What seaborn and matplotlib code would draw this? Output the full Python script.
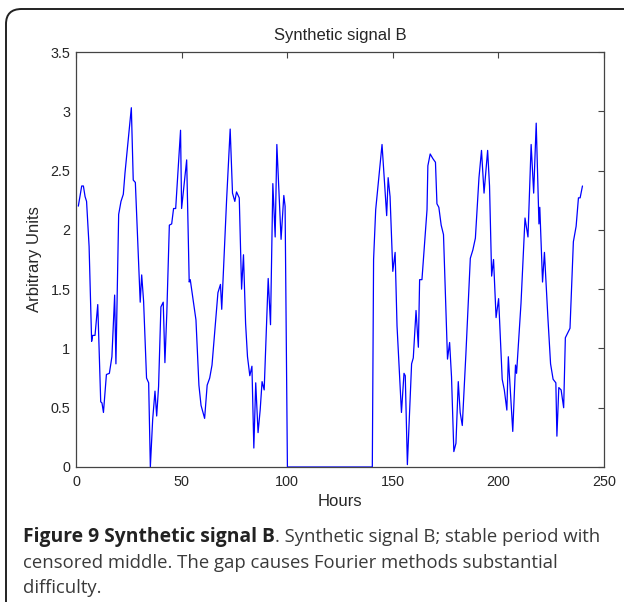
import numpy as np
import pandas as pd
import matplotlib
matplotlib.use("Agg")
import matplotlib.pyplot as plt
import seaborn as sns
from matplotlib.patches import FancyBboxPatch

# signal before the censored stretch (hours, arbitrary units)
hours_a = [1.1, 2.7, 3.5, 4.3, 5.0, 6.2, 7.4, 7.9, 9.0, 10.3, 11.7, 12.3, 13.0, 14.4,
           15.8, 17.0, 18.3, 18.9, 20.2, 21.3, 22.4, 23.2, 26.2, 27.1, 28.1, 30.4,
           31.1, 32.0, 33.4, 34.4, 35.2, 36.3, 37.4, 38.2, 39.1, 40.2, 41.3, 42.1,
           43.0, 44.2, 45.3, 46.2, 47.2, 49.5, 50.0, 52.4, 53.6, 54.1, 56.8, 58.2,
           59.2, 60.9, 62.1, 63.3, 64.4, 65.8, 67.2, 68.4, 69.0, 71.3, 73.0, 74.1,
           75.2, 76.0, 77.3, 78.4, 79.3, 80.3, 81.2, 82.3, 83.3, 84.2, 85.1, 86.2,
           87.2, 88.1, 89.1, 91.0, 92.1, 93.2, 94.3, 95.1, 97.1, 98.4, 99.0, 100.1]
signal_a = [2.20, 2.37, 2.37, 2.28, 2.24, 1.86, 1.06, 1.11, 1.11, 1.37, 0.55, 0.54, 0.46, 0.78,
            0.79, 0.93, 1.45, 0.87, 2.13, 2.24, 2.30, 2.48, 3.03, 2.42, 2.40, 1.39,
            1.62, 1.40, 0.75, 0.71, 0.00, 0.40, 0.64, 0.43, 0.68, 1.35, 1.39, 0.88,
            1.30, 2.04, 2.05, 2.18, 2.18, 2.84, 2.18, 2.59, 1.56, 1.58, 1.24, 0.69,
            0.52, 0.41, 0.69, 0.75, 0.86, 1.17, 1.47, 1.54, 1.33, 2.25, 2.85, 2.31,
            2.24, 2.32, 2.27, 1.50, 1.79, 1.21, 0.93, 0.77, 0.85, 0.16, 0.71, 0.29,
            0.48, 0.72, 0.65, 1.59, 1.20, 2.39, 1.94, 2.72, 1.92, 2.29, 2.20, 0.00]

# signal after the censored stretch
hours_b = [140.3, 140.9, 141.9, 144.9, 147.1, 147.8, 148.7, 150.0, 151.1, 152.0, 154.1,
           155.3, 155.9, 156.9, 158.9, 159.7, 161.0, 162.1, 162.7, 163.8, 166.2, 166.6,
           167.7, 169.0, 170.2, 170.9, 171.8, 172.9, 174.0, 175.9, 176.9, 177.8, 178.9,
           179.9, 181.0, 181.9, 182.9, 184.6, 186.7, 187.9, 189.1, 190.8, 192.0, 193.2,
           194.9, 195.8, 196.8, 197.7, 198.9, 200.1, 201.8, 202.8, 204.0, 204.7, 206.8,
           208.1, 208.6, 210.7, 212.6, 214.0, 215.5, 216.7, 217.9, 219.2, 219.6, 220.9,
           221.8, 223.4, 224.7, 225.9, 227.2, 227.7, 228.6, 229.7, 230.9, 231.7, 232.8,
           233.9, 235.5, 236.8, 237.9, 238.7, 239.8]
signal_b = [0.00, 1.75, 2.17, 2.72, 2.12, 2.44, 2.28, 1.65, 1.81, 1.19, 0.46,
            0.79, 0.77, 0.02, 0.87, 0.92, 1.32, 1.01, 1.58, 1.58, 2.17, 2.54,
            2.64, 2.60, 2.57, 2.22, 2.19, 2.04, 1.96, 0.91, 1.05, 0.76, 0.13,
            0.20, 0.72, 0.46, 0.35, 0.95, 1.76, 1.83, 1.93, 2.44, 2.67, 2.31,
            2.67, 2.37, 1.61, 1.75, 1.26, 1.42, 0.74, 0.65, 0.48, 0.93, 0.30,
            0.86, 0.79, 1.38, 2.10, 1.94, 2.72, 2.31, 2.90, 2.05, 2.19, 1.56,
            1.81, 1.27, 0.87, 0.74, 0.71, 0.26, 0.67, 0.65, 0.50, 1.09, 1.13,
            1.17, 1.90, 2.03, 2.27, 2.27, 2.37]

x_ticks = [0, 50, 100, 150, 200, 250]
y_ticks = [0, 0.5, 1, 1.5, 2, 2.5, 3, 3.5]
y_labels = ["0", "0.5", "1", "1.5", "2", "2.5", "3", "3.5"]

df = pd.DataFrame({"Hours": hours_a + hours_b, "Signal": signal_a + signal_b})

sns.set_style("white")
plt.rcParams["font.family"] = ["Liberation Sans", "DejaVu Sans"]

fig = plt.figure(figsize=(6.24, 6.02), dpi=100)
ax = fig.add_axes([76 / 624, 1 - 467 / 602, 528 / 624, 415 / 602])

sns.lineplot(data=df, x="Hours", y="Signal", ax=ax, color="#0000ff",
             linewidth=0.9, estimator=None, sort=False)

ax.set_xlim(0, 250)
ax.set_ylim(0, 3.5)
ax.set_xticks(x_ticks)
ax.set_yticks(y_ticks)
ax.set_xticklabels([str(t) for t in x_ticks])
ax.set_yticklabels(y_labels)
ax.tick_params(direction="in", length=4, width=0.8, color="#444444",
               labelsize=10.4, top=True, right=True, pad=4)
ax.tick_params(axis="x", pad=6)
for s in ax.spines.values():
    s.set_color("#444444")
    s.set_linewidth(0.9)
ax.set_xlabel("Hours", fontsize=12, labelpad=3)
ax.set_ylabel("Arbitrary Units", fontsize=12, labelpad=6)
ax.set_title("Synthetic signal B", fontsize=12, pad=8.5)

# rounded frame around the figure
frame = FancyBboxPatch((6 / 624, -0.05), 1.1, 1.05 - 9 / 602,
                       boxstyle="round,pad=0,rounding_size=0.025",
                       transform=fig.transFigure, fill=False,
                       edgecolor="#222222", linewidth=1.4, clip_on=False)
fig.patches.append(frame)

# caption
cap_font = ["Open Sans", "DejaVu Sans"]
x0 = 23 / 624
t1 = fig.text(x0, 1 - 542 / 602, "Figure 9 Synthetic signal B", fontsize=13.9,
              fontweight="bold", family=cap_font, color="#222222", va="baseline")
fig.canvas.draw()
bb = t1.get_window_extent(renderer=fig.canvas.get_renderer())
fig.text(bb.x1 / fig.bbox.width, 1 - 542 / 602, ". Synthetic signal B; stable period with",
         fontsize=13.3, family=cap_font, color="#3a3a3a", va="baseline")
fig.text(x0, 1 - 567.5 / 602, "censored middle. The gap causes Fourier methods substantial",
         fontsize=13.3, family=cap_font, color="#3a3a3a", va="baseline")
fig.text(x0, 1 - 593 / 602, "difficulty.",
         fontsize=13.3, family=cap_font, color="#3a3a3a", va="baseline")

fig.savefig("out.png", dpi=100)
